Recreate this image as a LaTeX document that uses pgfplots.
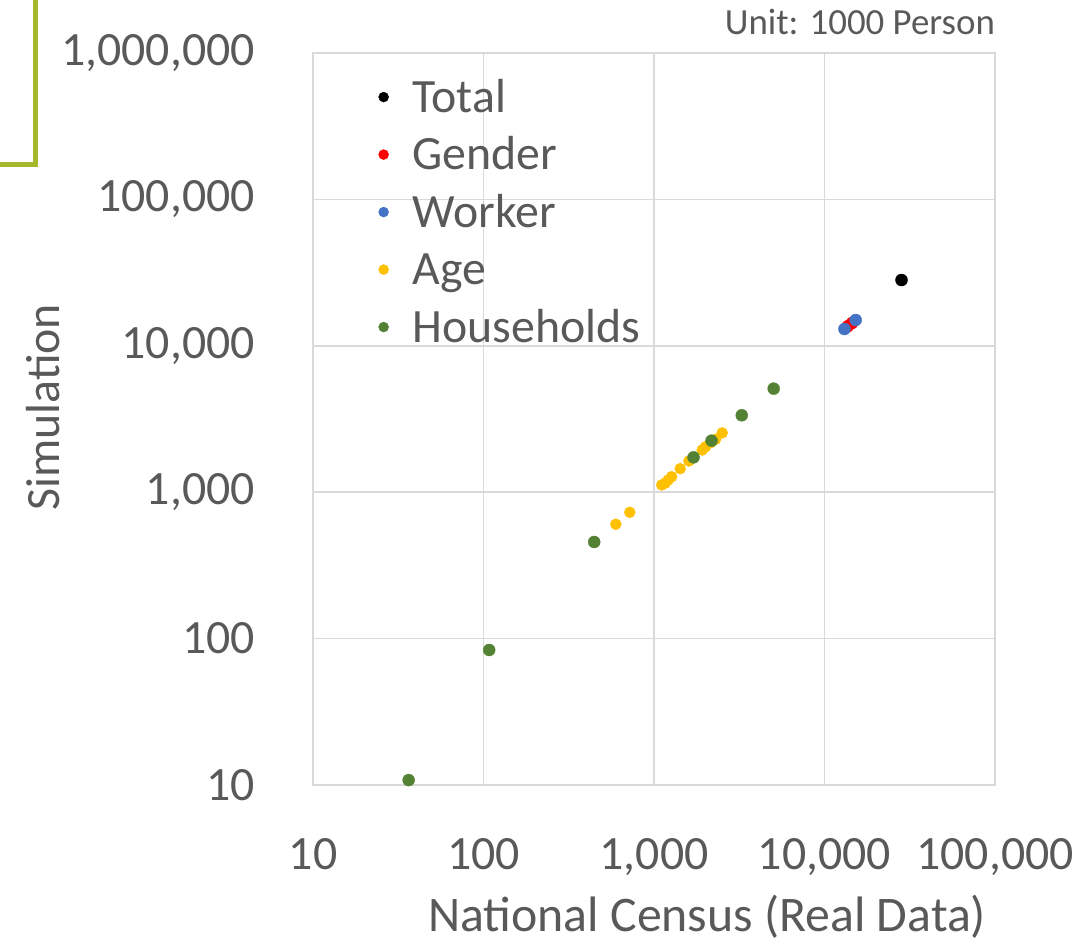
\documentclass[border=0pt]{standalone}
\usepackage{pgfplots}
\pgfplotsset{compat=1.18}
\usepackage{fontspec}
\setmainfont{Carlito}
\definecolor{txtgray}{HTML}{595959}
\definecolor{gridgray}{HTML}{D9D9D9}
\definecolor{cblue}{HTML}{4472C4}
\definecolor{cyellow}{HTML}{FFC000}
\definecolor{cgreen}{HTML}{548235}
\definecolor{cred}{HTML}{FF0000}
\definecolor{olive}{HTML}{A5B72B}
\begin{document}
\begin{tikzpicture}
\begin{axis}[name=ax,
  xmode=log, ymode=log, scale only axis,
  width=682bp, height=732bp,
  xmin=10, xmax=100000, ymin=10, ymax=1000000,
  xtick={10,100,1000,10000,100000},
  xticklabels={10,100,{1,000},{10,000},{100,000}},
  ytick={10,100,1000,10000,100000,1000000},
  yticklabels={10,100,{1,000},{10,000},{100,000},{1,000,000}},
  minor xtick={}, minor ytick={},
  /pgf/number format/assume math mode=true,
  grid=major,
  major grid style={draw=gridgray, line width=1.5bp},
  axis line style={draw=gridgray, line width=1.5bp},
  major tick length=0pt, minor tick length=0pt,
  tick style={draw=none},
  ticklabel style={font=\fontsize{48}{58}\selectfont, text=txtgray, inner sep=0pt},
  xticklabel style={anchor=north, yshift=-53bp},
  yticklabel style={anchor=east, xshift=-58bp},
  xlabel={National Census (Real Data)},
  xlabel style={at={(rel axis cs:0.578,0)}, anchor=north, yshift=-110bp, inner sep=0pt, font=\fontsize{50}{58}\selectfont, text=txtgray},
  ylabel={Simulation},
  ylabel style={at={(rel axis cs:0,0.516)}, anchor=south, yshift=253bp, inner sep=0pt, font=\fontsize{48}{56}\selectfont, text=txtgray},
  legend style={at={(rel axis cs:0.096,0.966)}, anchor=north west, draw=none, fill=none, inner sep=0pt,
    font=\fontsize{48}{58}\selectfont, text=txtgray,
    nodes={inner xsep=0pt, inner ysep=0pt, text height=34bp, text depth=10bp},
    row sep=13.5bp,
    /tikz/every odd column/.append style={column sep=24bp}},
  legend cell align=left,
  legend image code/.code={\draw[#1, mark size=5bp] plot coordinates {(0bp,3bp)};},
]
\addplot[only marks, mark=*, mark size=6bp, color=black] coordinates {(28300,28130)};
\addlegendentry{Total}
\addplot[only marks, mark=*, mark size=6bp, color=cred] coordinates {(13700,13600) (14500,14300)};
\addlegendentry{Gender}
\addplot[only marks, mark=*, mark size=6bp, color=cblue] coordinates {(13090,13020) (15240,15000)};
\addlegendentry{Worker}
\addplot[only marks, mark=*, mark size=5.5bp, color=cyellow] coordinates {
(597,604) (721,729) (1109,1120) (1160,1150) (1210,1210) (1269,1276) (1425,1448)
(1602,1634) (1700,1720) (1917,1942) (2004,2042) (2150,2180) (2296,2296) (2512,2542)};
\addlegendentry{Age}
\addplot[only marks, mark=*, mark size=6bp, color=cgreen] coordinates {
(36.4,10.8) (108,83.6) (446,457) (1706,1730) (2175,2249) (3271,3352) (5035,5096)};
\addlegendentry{Households}
\end{axis}
\node[anchor=south east, inner sep=0pt, yshift=18bp, font=\fontsize{37}{42}\selectfont, text=txtgray] at (ax.north east) {Unit: 1000 Person};
\draw[olive, line width=5bp, line join=miter]
  ([xshift=-277bp,yshift=70bp]ax.north west) -- ([xshift=-277bp,yshift=-112bp]ax.north west) -- ([xshift=-330bp,yshift=-112bp]ax.north west);
\pgfresetboundingbox
\path[use as bounding box] ([xshift=-313bp,yshift=53bp]ax.north west) rectangle ([xshift=84bp,yshift=-158bp]ax.south east);
\end{tikzpicture}
\end{document}
